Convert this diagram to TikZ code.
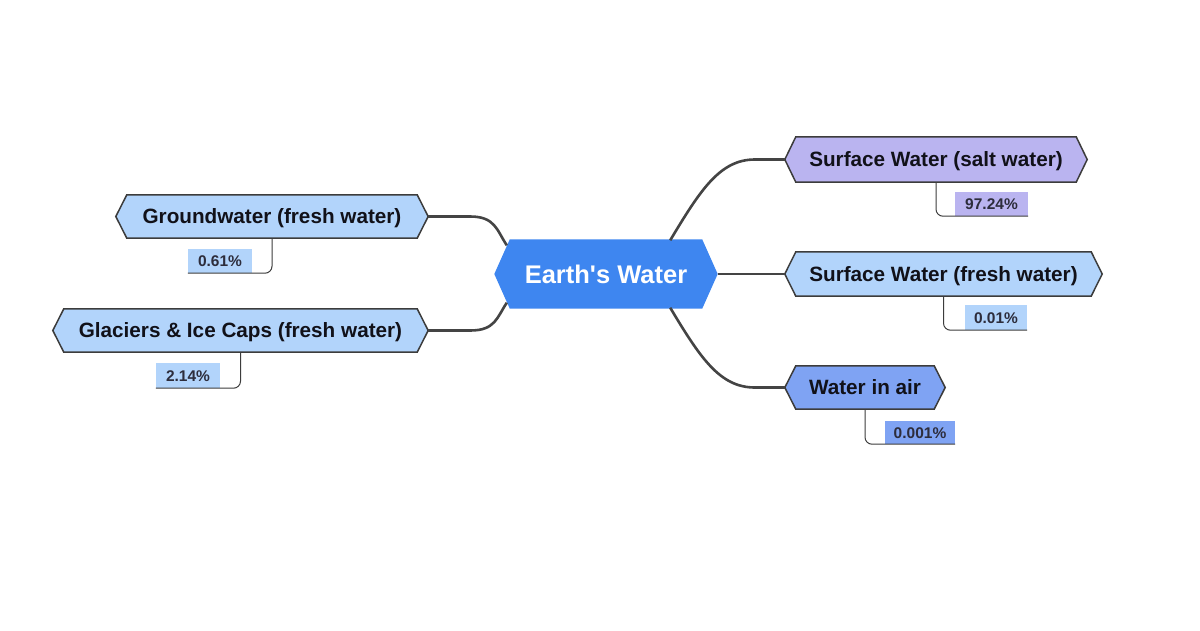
\documentclass[tikz,border=0pt]{standalone}
\usepackage{fontspec}
\setmainfont{Liberation Sans}[Ligatures=TeXOff]
\usetikzlibrary{calc,backgrounds}
\definecolor{centerblue}{RGB}{62,134,240}
\definecolor{lav}{RGB}{186,180,240}
\definecolor{lblue}{RGB}{178,212,251}
\definecolor{mblue}{RGB}{127,163,243}
\definecolor{edgegray}{RGB}{60,60,60}
\definecolor{conngray}{RGB}{68,68,68}
\definecolor{ptext}{RGB}{45,45,60}
\definecolor{ntext}{RGB}{17,17,25}

\tikzset{
  hextext/.style={font=\bfseries\fontsize{20.7}{24}\selectfont, text=ntext, inner sep=0pt, text height=14.8pt, text depth=0pt},
  maintext/.style={font=\bfseries\fontsize{25.5}{30}\selectfont, text=white, inner sep=0pt, text height=18.3pt, text depth=0pt},
  hexshape/.style={draw=edgegray, line width=1.5pt, line join=miter},
  pctbox/.style={font=\bfseries\fontsize{15.5}{18}\selectfont, text=ptext, inner sep=0pt, text height=11.1pt, text depth=0pt},
  link/.style={draw=conngray, line width=2.6pt},
  pline/.style={draw=edgegray, line width=1pt, rounded corners=7pt},
}

% #1 name, #2 x, #3 y, #4 flat width, #5 height, #6 indent, #7 hexagon style, #8 text style, #9 text
\newcommand\hexnode[9]{%
  \node[#8, minimum width=#4pt, minimum height=#5pt] (#1) at (#2,#3) {#9};
  \coordinate (#1-W) at ($(#1.west)+(-#6,0)$);
  \coordinate (#1-E) at ($(#1.east)+(#6,0)$);
  \begin{scope}[on background layer]
    \path[#7] (#1.north west) -- (#1.north east) -- (#1-E) -- (#1.south east)
      -- (#1.south west) -- (#1-W) -- cycle;
  \end{scope}}

\begin{document}
\begin{tikzpicture}[x=1pt,y=-1pt]
  \begin{scope}[on background layer]
    \fill[white] (0,0) rectangle (1200,630);
  \end{scope}
  \useasboundingbox (0,0) rectangle (1200,630);

  % central node
  \hexnode{c}{606}{274}{192}{69}{15.5}{fill=centerblue}{maintext}{Earth's Water}

  % branch nodes
  \hexnode{salt}{936}{159.5}{280}{45}{11}{hexshape,fill=lav}{hextext}{Surface Water (salt water)}
  \hexnode{fresh}{943.5}{274}{295}{44}{11}{hexshape,fill=lblue}{hextext}{Surface Water (fresh water)}
  \hexnode{air}{865}{387.5}{138}{43}{11}{hexshape,fill=mblue}{hextext}{Water in air}
  \hexnode{gw}{272}{216.5}{290}{43}{11}{hexshape,fill=lblue}{hextext}{Groundwater (fresh water)}
  \hexnode{gl}{240.5}{330.5}{353}{43}{11}{hexshape,fill=lblue}{hextext}{Glaciers \& Ice Caps (fresh water)}

  % percentage boxes
  \node[pctbox, fill=lav, minimum width=73pt, minimum height=24pt] (p1) at (991.5,204) {97.24\%};
  \node[pctbox, fill=lblue, minimum width=62pt, minimum height=25pt] (p2) at (996,317.5) {0.01\%};
  \node[pctbox, fill=mblue, minimum width=70pt, minimum height=23pt] (p3) at (920,432.5) {0.001\%};
  \node[pctbox, fill=lblue, minimum width=64pt, minimum height=24pt] (p4) at (220,261) {0.61\%};
  \node[pctbox, fill=lblue, minimum width=64pt, minimum height=25pt] (p5) at (188,375.5) {2.14\%};

  % links from the central node
  \draw[link] ($(c.north east)+(-32,1)$) .. controls +(30,-50) and +(-35,0) .. ($(salt-W)+(-30,0)$) -- (salt-W);
  \draw[link] (c-E) -- (fresh-W);
  \draw[link] ($(c.south east)+(-32,-1)$) .. controls +(30,50) and +(-35,0) .. ($(air-W)+(-30,0)$) -- (air-W);
  \draw[link] ($(c.north west)+(-3,6)$) .. controls +(-10,-15) and +(25,0) .. ($(gw-E)+(42,0)$) -- (gw-E);
  \draw[link] ($(c.south west)+(-3,-6)$) .. controls +(-10,15) and +(25,0) .. ($(gl-E)+(42,0)$) -- (gl-E);

  % percentage connectors
  \draw[pline] (salt.south) |- (p1.south east);
  \draw[pline] (fresh.south) |- (p2.south east);
  \draw[pline] (air.south) |- (p3.south east);
  \draw[pline] (gw.south) |- (p4.south west);
  \draw[pline] (gl.south) |- (p5.south west);
\end{tikzpicture}
\end{document}
